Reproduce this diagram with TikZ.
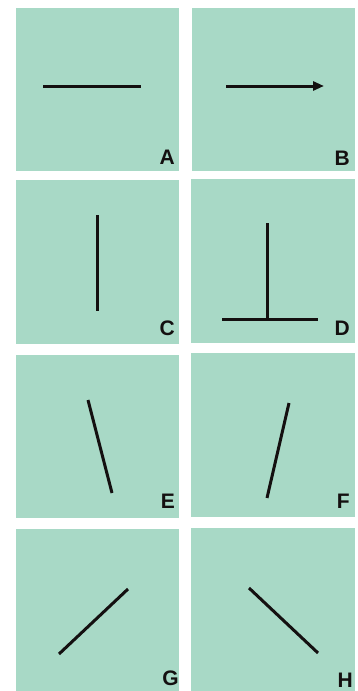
\documentclass[tikz,border=0pt]{standalone}
\usepackage{fontspec}
\setmainfont{Liberation Sans}
\usetikzlibrary{arrows.meta}
\definecolor{panelgreen}{RGB}{168,217,198}
\definecolor{inkblack}{RGB}{20,16,16}
\tikzset{
  panel/.style={fill=panelgreen, draw=none},
  stroke/.style={draw=inkblack, line width=3pt},
  lbl/.style={anchor=base east, inner sep=0pt, font=\bfseries\fontsize{21}{21}\selectfont, text=inkblack}
}
\begin{document}
\begin{tikzpicture}[x=1pt,y=-1pt]
\useasboundingbox (0,0) rectangle (358,691);
% panels
\fill[panel] (16,8) rectangle (179,171);
\fill[panel] (192,8) rectangle (355,171);
\fill[panel] (16,180) rectangle (179,344);
\fill[panel] (191,179) rectangle (355,343);
\fill[panel] (16,355) rectangle (179,518);
\fill[panel] (191,353) rectangle (355,517);
\fill[panel] (16,529) rectangle (179,691);
\fill[panel] (191,528) rectangle (355,691);
% A
\coordinate (a1) at (43,86); \coordinate (a2) at (141,86);
\draw[stroke] (a1) -- (a2);
% B
\coordinate (b1) at (226,86); \coordinate (b2) at (324,86);
\draw[stroke, -{Triangle[length=11pt,width=9pt]}] (b1) -- (b2);
% C
\coordinate (c1) at (97,215); \coordinate (c2) at (97,311);
\draw[stroke] (c1) -- (c2);
% D
\coordinate (d1) at (267,223); \coordinate (d2) at (267,319);
\coordinate (d3) at (222,319); \coordinate (d4) at (318,319);
\draw[stroke] (d1) -- (d2);
\draw[stroke] (d3) -- (d4);
% E
\coordinate (e1) at (88,400); \coordinate (e2) at (112,493);
\draw[stroke] (e1) -- (e2);
% F
\coordinate (f1) at (289,403); \coordinate (f2) at (267,498);
\draw[stroke] (f1) -- (f2);
% G
\coordinate (g1) at (59,654); \coordinate (g2) at (128,589);
\draw[stroke] (g1) -- (g2);
% H
\coordinate (h1) at (249,588); \coordinate (h2) at (318,653);
\draw[stroke] (h1) -- (h2);
% labels
\node[lbl] (lA) at (175,164) {A};
\node[lbl] (lB) at (350,165) {B};
\node[lbl] (lC) at (175,335) {C};
\node[lbl] (lD) at (350,335) {D};
\node[lbl] (lE) at (175,508) {E};
\node[lbl] (lF) at (350,508) {F};
\node[lbl] (lG) at (179,685) {G};
\node[lbl] (lH) at (353,687) {H};
\end{tikzpicture}
\end{document}
